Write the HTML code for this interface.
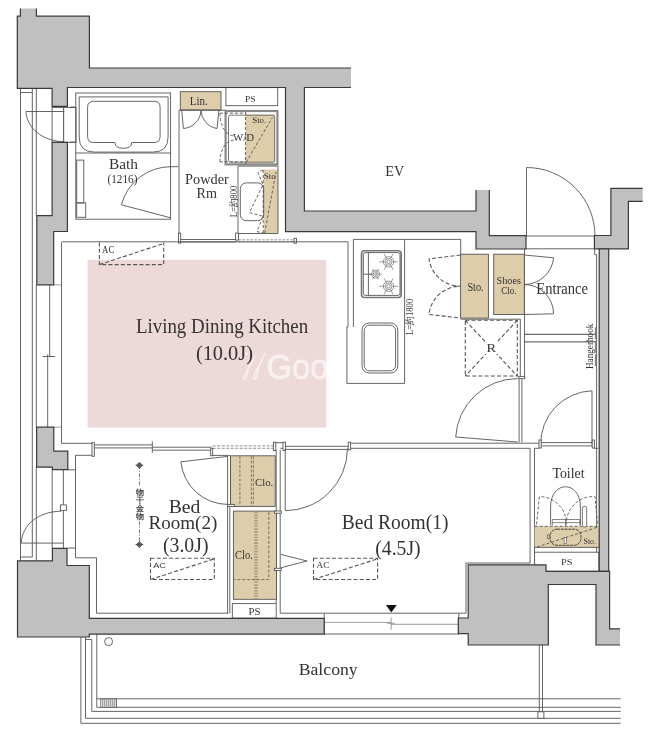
<!DOCTYPE html>
<html><head><meta charset="utf-8"><style>
html,body{margin:0;padding:0;background:#fff;width:655px;height:730px;overflow:hidden}
svg{display:block;will-change:transform}
text{font-family:"Liberation Serif",serif;fill:#333}
.w{fill:#c0c0c0;stroke:#3a3a3a;stroke-width:1.2}
.l{fill:none;stroke:#555;stroke-width:0.9}
.t{fill:none;stroke:#777;stroke-width:0.7}
.d{fill:none;stroke:#555;stroke-width:0.9;stroke-dasharray:3 2}
.d2{fill:none;stroke:#555;stroke-width:1.1;stroke-dasharray:4 2.2}
.tan{fill:#decdab;stroke:#555;stroke-width:0.9}
text.s{font-family:"Liberation Sans",sans-serif}
.wb{fill:#fff;stroke:#555;stroke-width:0.9}
</style></head><body>
<svg width="655" height="730" viewBox="0 0 655 730">
<!-- pink LDK -->
<rect x="87.6" y="259.8" width="238.7" height="167.8" fill="#eed9d9"/>

<!-- ===== TOP-LEFT window lines ===== -->
<path class="l" d="M20.5,88.3 V560.8 M20.5,92.5 H32.3 M32.3,88.3 V557 H20.5 M36.3,88.3 V215.6 M36.3,284.8 V427.2 M36.3,467.2 V560.8"/>
<rect class="wb" x="52.1" y="107.5" width="11.6" height="34.8"/>
<rect class="wb" x="63.7" y="107.5" width="12.3" height="34.8"/>
<path class="l" d="M25.9,111.5 H64.3 M25.9,111.5 C27,128 42,141 63.7,141.7"/>
<!-- ===== BATH ===== -->
<rect class="l" x="75.8" y="93" width="94.8" height="126.2"/>
<path class="l" d="M79.2,96.9 H168.1 V137 Q168.1,152.1 153,152.1 H94.3 Q79.2,152.1 79.2,137 Z"/>
<path class="l" d="M93.6,101.3 H154.1 Q160.1,101.3 160.1,107.3 V136.5 Q160.1,142.5 154.1,142.5 H131.7 Q131.7,148.3 123.4,148.3 Q115,148.3 115,142.5 H93.6 Q87.6,142.5 87.6,136.5 V107.3 Q87.6,101.3 93.6,101.3 Z"/>
<path class="l" d="M75.8,153 H170.6"/>
<rect class="l" x="76.7" y="160.1" width="7.1" height="42.8"/>
<rect class="l" x="76.7" y="202.9" width="9" height="14.4"/>
<path class="l" d="M121.4,204.8 L170.6,217.8 M121.4,204.8 A51,51 0 0 1 170.6,166.7 H178.5"/>
<path class="l" d="M70,107 H75.8 M70,142.1 H75.8"/>
<text x="108.9" y="169.3" font-size="14" textLength="29" lengthAdjust="spacingAndGlyphs">Bath</text>
<text x="107.4" y="182.8" font-size="13" textLength="30.1" lengthAdjust="spacingAndGlyphs">(1216)</text>
<!-- ===== POWDER ===== -->
<rect class="tan" x="180.3" y="91.7" width="40.7" height="18.2"/>
<text x="189.7" y="104.8" font-size="13.4" textLength="18" lengthAdjust="spacingAndGlyphs">Lin.</text>
<rect class="wb" x="225.9" y="87.6" width="51.8" height="18.1"/>
<text x="245" y="101.7" font-size="9" textLength="10.6" lengthAdjust="spacingAndGlyphs">PS</text>
<path class="l" d="M179,110.3 V240.2 M179,110.3 H226"/>
<path class="l" d="M181.7,110 L183.4,128.5 A19,19 0 0 0 201,110.5 A19,19 0 0 0 217.1,128.5 L218.9,110"/>
<!-- W/D -->
<rect x="225.6" y="111" width="51.8" height="53.4" fill="#fff" stroke="#888" stroke-width="2.2"/>
<rect x="245.6" y="114.5" width="29.4" height="48" fill="#decdab"/>
<rect x="228.5" y="115.2" width="46.2" height="47" rx="2" fill="none" stroke="#555" stroke-width="0.8"/>
<path class="d" d="M245.6,112 V164 M246.1,162.2 L272.4,117.5"/>
<path class="d" d="M219.9,113.2 H245.6 M219.9,161.8 H245.6 M219.9,113.2 A13.9,22.6 0 0 0 233.8,135.8 M219.9,161.8 A13.9,21.6 0 0 1 233.8,140.2"/>
<text x="232.9" y="140.8" font-size="11" textLength="21.1" lengthAdjust="spacingAndGlyphs">W/D</text>
<text x="252.2" y="122.7" font-size="9" textLength="14.1" lengthAdjust="spacingAndGlyphs">Sto.</text>
<!-- sink area -->
<path class="l" d="M238,166.1 V238.2 M238,166.1 H278"/>
<rect class="tan" x="263.7" y="169.5" width="14.3" height="64" style="stroke:none"/>
<path class="l" d="M278,166.1 V233.5 H238"/>
<rect class="l" x="240.3" y="182.9" width="23.4" height="37.8" rx="6"/>
<path class="d" d="M263.2,170 V233 M264.7,233 L276,172"/>
<path class="d" d="M263,170 L258,172.4 L263,184.8 L249.4,212.5 L263,216.3 L257,231.6 L263,233"/>
<text x="263.7" y="178.5" font-size="8.5" textLength="12.1" lengthAdjust="spacingAndGlyphs">Sto</text>
<text transform="translate(236.5,217.3) rotate(-90)" font-size="10" textLength="31.5" lengthAdjust="spacingAndGlyphs">L=約800</text>
<text x="185.1" y="183.9" font-size="15.4" textLength="43.7" lengthAdjust="spacingAndGlyphs">Powder</text>
<text x="196.6" y="198.2" font-size="15.4" textLength="20.4" lengthAdjust="spacingAndGlyphs">Rm</text>
<!-- bottom of powder -->
<path class="l" d="M179,239.5 H236.7 M179,242 H236.7"/>
<rect class="wb" x="178.5" y="233.1" width="2.2" height="10"/>
<path d="M238.4,239.8 H294 M238.4,242 H294" fill="none" stroke="#777" stroke-width="0.8" stroke-dasharray="2.5 1.5"/>
<rect class="wb" x="235.6" y="233.1" width="2.8" height="7"/>
<rect class="wb" x="294" y="238.3" width="2.5" height="4.9"/>
<!-- EV shaft lines -->


<!-- ===== LEFT WINDOW (LDK) ===== -->
<path class="l" d="M49.7,284.8 V356.5 M47.7,354.4 V427.2 M42.5,356.5 H55 M61.5,242.4 V443.3 H92"/>
<path class="t" d="M53.7,284.8 H61.5 M53.7,427.2 H61.5"/>
<!-- ===== LEFT DOOR (BR2) ===== -->
<path class="l" d="M52.2,469.8 V548.1 M63.4,469.8 V548.1 M75.5,469.8 H67.7 M75.5,455.3 V557.8 H96.5 V613.2 H228.5 M67.2,548.1 H75.5"/>
<path class="l" d="M21.3,543.1 H63.4 M21.3,543.1 C22,525 38,511.5 61.2,511.2"/>
<rect class="wb" x="60.4" y="504.9" width="6" height="5.5"/>
<!-- ===== LDK top / kitchen ===== -->
<path class="l" d="M61.5,241.8 H348 V327 H346.9 V383.4 H404.6 M353.4,327 V239.4 H460.7 V254.4 M404.6,239.4 V383.4"/>
<rect x="361.5" y="250.8" width="39.7" height="46.7" rx="3" fill="none" stroke="#777" stroke-width="1.6"/>
<rect class="l" x="363.3" y="252.6" width="36.7" height="42.8" rx="2"/>
<path class="l" d="M368.4,252.6 V295.4 M363.3,274.2 H371.6"/>
<g fill="none" stroke="#555" stroke-width="0.6">
<circle cx="388.6" cy="261.8" r="5.2"/>
<circle cx="388.6" cy="261.8" r="3.4"/>
<circle cx="388.6" cy="261.8" r="1.8"/>
<path d="M392.60,261.80 L397.80,261.80 M390.60,265.26 L393.20,269.77 M386.60,265.26 L384.00,269.77 M384.60,261.80 L379.40,261.80 M386.60,258.34 L384.00,253.83 M390.60,258.34 L393.20,253.83"/>
<circle cx="375.6" cy="274.2" r="4.0"/>
<circle cx="375.6" cy="274.2" r="2.4"/>
<circle cx="375.6" cy="274.2" r="1.0"/>
<path d="M378.60,274.20 L381.60,274.20 M377.10,276.80 L378.60,279.40 M374.10,276.80 L372.60,279.40 M372.60,274.20 L369.60,274.20 M374.10,271.60 L372.60,269.00 M377.10,271.60 L378.60,269.00"/>
<circle cx="388.6" cy="286.3" r="5.2"/>
<circle cx="388.6" cy="286.3" r="3.4"/>
<circle cx="388.6" cy="286.3" r="1.8"/>
<path d="M392.60,286.30 L397.80,286.30 M390.60,289.76 L393.20,294.27 M386.60,289.76 L384.00,294.27 M384.60,286.30 L379.40,286.30 M386.60,282.84 L384.00,278.33 M390.60,282.84 L393.20,278.33"/>
</g>
<rect class="l" x="362" y="323" width="35.8" height="50" rx="7"/>
<rect class="l" x="364.2" y="325.2" width="31.4" height="45.6" rx="5.5"/>
<text transform="translate(412.5,335) rotate(-90)" font-size="10" textLength="36.3" lengthAdjust="spacingAndGlyphs">L=約1800</text>
<!-- AC LDK -->
<path class="d2" d="M99.4,242.6 V264.6 H163.7 V242.6 M99.4,264.6 L163.7,243.5"/>
<text x="102.1" y="252.7" font-size="9.3" textLength="12.3" lengthAdjust="spacingAndGlyphs">AC</text>


<!-- ===== LDK bottom / bedrooms ===== -->
<path class="l" d="M94.3,444.9 H152.7 M94.3,447.9 H152.7 M152.7,447.2 H211.7 M152.7,450.2 H211.7 M152.3,441.4 V452.9"/>
<rect class="wb" x="92" y="442.6" width="2.3" height="13.7"/>
<path d="M212.7,445.9 H273.2 M212.7,448.3 H273.2" fill="none" stroke="#777" stroke-width="0.8" stroke-dasharray="3 1.5"/>
<rect class="wb" x="210.7" y="448.3" width="2" height="7.5"/>
<path class="l" d="M275.8,442.7 H283 M280.4,448.3 H283"/>
<rect class="wb" x="273.4" y="442.2" width="2.4" height="8.4"/>
<rect class="wb" x="283" y="442.2" width="2.6" height="8.4"/>
<path class="l" d="M212.7,455.4 H230 M75.5,455.3 H92"/>
<path class="l" d="M285.1,446.3 H349.5 M285.1,449.4 H349.5 M349.5,443.2 H519 M349.5,448.3 H530.1 M276.2,449.8 V603 M280.2,449.8 V613.2 H466"/>
<!-- BR2 door -->
<path class="l" d="M180.9,461.8 L227.6,456.4 M180.9,461.8 A47,47 0 0 0 227.6,504.4"/>
<!-- BR2 closets -->
<path class="l" d="M227.6,456 V613.2 M229.8,506 V613.2 M230.5,456 V506"/>
<rect class="tan" x="230.5" y="455.8" width="44.7" height="50.6"/>
<path d="M239.9,456 V506 M251.4,456 V506 M253.4,456 V506" fill="none" stroke="#7a7060" stroke-width="0.9" stroke-dasharray="3 1.5"/>
<rect class="wb" x="227.6" y="504.4" width="6.9" height="2"/>
<text x="255" y="486" font-size="11" textLength="18.3" lengthAdjust="spacingAndGlyphs">Clo.</text>
<rect class="tan" x="233.4" y="511.1" width="43.1" height="88.2"/>
<path d="M256,511.5 V599" fill="none" stroke="#a59d88" stroke-width="3.5" stroke-dasharray="1.6 1.2"/>
<path d="M268.8,512 V579.6 H233.4" fill="none" stroke="#6a6250" stroke-width="0.9" stroke-dasharray="3 1.8"/>
<text x="235.1" y="559.1" font-size="12.5" textLength="17.8" lengthAdjust="spacingAndGlyphs">Clo.</text>
<rect class="wb" x="232.3" y="603.6" width="43.9" height="14.6"/>
<text x="248.5" y="615.1" font-size="10.5" textLength="12" lengthAdjust="spacingAndGlyphs">PS</text>
<rect class="wb" x="274.5" y="511" width="6.8" height="2.2"/>
<rect class="wb" x="274.5" y="568.3" width="6.8" height="2.2"/>
<!-- rail -->
<path d="M139.4,465.3 V544.6" fill="none" stroke="#555" stroke-width="0.8" stroke-dasharray="4 1.5 1 1.5"/>
<path d="M139.4,462.2 L142.5,465.3 L139.4,468.4 L136.3,465.3 Z M139.4,541.5 L142.5,544.6 L139.4,547.7 L136.3,544.6 Z" fill="#666" stroke="#333" stroke-width="0.6"/>
<path d="M135.5,465.3 H143.3 M135.5,544.6 H143.3" stroke="#444" stroke-width="0.7"/>
<g style="font-size:7.6px;font-weight:bold"><rect x="135.5" y="487" width="8" height="33" fill="#fff"/><text x="135.6" y="494.5" style="fill:#444">物</text><text x="135.6" y="502.6" style="fill:#444">干</text><text x="135.6" y="510.7" style="fill:#444">金</text><text x="135.6" y="518.9" style="fill:#444">物</text></g>
<!-- AC BR2 -->
<path class="d2" d="M150.5,558.3 H214.3 V579.5 H150.5 Z M150.5,579.5 L214.3,558.8"/>
<text x="153.3" y="567.5" font-size="8.1" class="s" textLength="12.6" lengthAdjust="spacingAndGlyphs">AC</text>
<!-- BR1 door -->
<path class="l" d="M285.2,448.6 V510.7 M285.2,510.7 A62.3,62.3 0 0 0 347.5,448.6"/>
<rect class="wb" x="348.2" y="442.2" width="2.4" height="7.6"/>
<!-- triangle -->
<path class="l" d="M280.8,554.4 L307,561 L280.8,567.8"/>
<!-- AC BR1 -->
<path class="d2" d="M313.5,558.3 H377.6 V579.5 H313.5 Z M313.5,579.5 L377.6,558.8"/>
<text x="316.6" y="567.7" font-size="9.2" textLength="12.8" lengthAdjust="spacingAndGlyphs">AC</text>
<!-- BR1 window -->
<path class="l" d="M324.2,613.4 V634 M458.8,613.4 V634 M324.2,634 H458.8"/>
<path class="t" d="M324.2,622.4 H391 M391,624.3 H458.8 M391.2,617.5 V629.8 M387,623.3 H395"/>
<path d="M386,605.1 H396.7 L391.3,612.5 Z" fill="#111"/>
<!-- ===== BALCONY ===== -->
<path class="l" d="M80.9,637 V723.3 H620.7 M85.5,637 V718.3 H620.7 M91.8,639.5 V711.4 H620.7 M96.8,634.2 V707.3 H620.7 M96.8,698.8 H620.7"/>
<path class="l" d="M85.5,639.5 H91.8"/>
<circle cx="108.6" cy="641.6" r="4" class="l"/>
<rect x="100.8" y="699" width="15.8" height="8.2" fill="#fff" stroke="#555" stroke-width="0.8"/>
<path d="M102.8,699.5 V706.7 M104.8,699.5 V706.7 M106.8,699.5 V706.7 M108.8,699.5 V706.7 M110.8,699.5 V706.7 M112.8,699.5 V706.7 M114.8,699.5 V706.7" fill="none" stroke="#444" stroke-width="0.7"/>
<path class="l" d="M539.3,645 V711.8 M542.5,645 V711.8"/>
<rect class="wb" x="537.9" y="711.8" width="6" height="6.5"/>


<!-- ===== ENTRANCE ===== -->
<path class="l" d="M526.5,167.5 V236 M526.5,167.5 A68.5,68.5 0 0 1 595,236"/>
<path class="l" d="M526,236 H594.4 M526,248.8 H594.4 M594.7,248.8 V254.6 H596.6 V571.3"/>
<path class="l" d="M524.5,249 V376.4 M520.3,319.2 V376.4 M460.6,319.2 H520.3"/>
<rect class="tan" x="460.6" y="254.2" width="27.8" height="63.9"/>
<rect class="tan" x="493.7" y="254.2" width="30.6" height="60.3"/>
<text x="467.4" y="291" font-size="12" textLength="16.3" lengthAdjust="spacingAndGlyphs">Sto.</text>
<text x="496.5" y="284.1" font-size="11" textLength="24.4" lengthAdjust="spacingAndGlyphs">Shoes</text>
<text x="501.2" y="293.7" font-size="11" textLength="15.4" lengthAdjust="spacingAndGlyphs">Clo.</text>
<path class="d2" d="M460.6,255 L429,258.9 A31.5,31.5 0 0 0 460.6,286.2 A31.5,31.5 0 0 0 429,314.5 L460.6,318"/>
<path class="l" d="M524.3,255 L553.6,257.8 A29.5,29.5 0 0 1 524.3,284.5 A29.5,29.5 0 0 1 553.6,313.8 L524.3,314.5"/>
<!-- R -->
<path class="d2" d="M465.3,320.3 H517.3 V376 H465.3 Z M465.3,320.3 L517.3,376 M517.3,320.3 L465.3,376"/>
<rect x="485" y="338" width="12.5" height="16" fill="#fff"/>
<text x="486.6" y="351.9" font-size="13" textLength="9.5" lengthAdjust="spacingAndGlyphs">R</text>
<rect class="wb" x="518.7" y="376.4" width="6.1" height="2.3"/>
<path class="l" d="M519.1,378.7 V442.3 M521.9,378.7 V442.3"/>
<!-- hanger -->
<path class="l" style="stroke:#333" d="M524.2,334.3 H595.4 M524.2,341.9 H595.4"/>
<text transform="translate(592.5,369) rotate(-90)" font-size="9.5" textLength="45.3" lengthAdjust="spacingAndGlyphs">Hangerhook</text>
<path d="M595.4,327.3 V366" fill="none" stroke="#555" stroke-width="0.8" stroke-dasharray="12 1.5"/>
<!-- LDK door -->
<path class="l" d="M517.6,442 L455.7,437 A62,62 0 0 1 517.6,378.6"/>
<!-- Toilet door -->
<path class="l" d="M592,445 V390.8 M592,390.8 A53,53 0 0 0 540.7,445"/>
<!-- toilet top walls -->
<path class="l" d="M519,443.2 H539.2 M539.2,442.6 H594 M539.2,445.9 H594 M534.5,448.3 H539.2 M594,448.3 H598.4 M530.1,448.3 V563 H466 V613.2 M534.5,448.3 V571.3"/>
<rect class="wb" x="539" y="440" width="2.2" height="8"/>
<rect class="wb" x="592.2" y="440" width="2.2" height="8"/>
<text x="552.4" y="478.4" font-size="15.3" textLength="32.1" lengthAdjust="spacingAndGlyphs">Toilet</text>
<rect x="534.6" y="526.3" width="64.3" height="21.1" fill="#decdab"/>
<path class="l" d="M534.6,547.4 H598.9"/>
<path class="d" d="M534.6,526.3 H598.9 M537,547 L598,527"/>
<path class="d" d="M536.5,524.4 L539.4,496.6 A27,27 0 0 1 566.3,524.4 A27,27 0 0 1 595,496.6 L597.5,524.4"/>
<path d="M550.6,525 V507 C550.6,480 580.4,480 580.4,507 V525" fill="none" stroke="#444" stroke-width="0.8"/>
<path d="M552.3,519.5 H579.8 M552.3,522.6 H579.8 M552.3,519.5 V525.8 M579.8,519.5 V525.8 M565.5,519.5 V525.8" fill="none" stroke="#555" stroke-width="0.7"/>
<rect x="582.4" y="506.3" width="4.3" height="20.7" rx="1.8" fill="#fff" stroke="#444" stroke-width="0.7"/>
<rect x="550" y="529.2" width="31" height="16.1" rx="7" fill="none" stroke="#333" stroke-width="0.9" stroke-dasharray="3 0.8"/>
<rect x="547.2" y="535" width="2.6" height="3.6" fill="#decdab" stroke="#444" stroke-width="0.6"/>
<rect x="564.1" y="537.3" width="2.3" height="6.3" fill="#fff" stroke="#444" stroke-width="0.6"/>
<text x="583.5" y="543.6" font-size="8.5" textLength="12.5" lengthAdjust="spacingAndGlyphs">Sto.</text>
<rect class="wb" x="534.6" y="552.2" width="64.3" height="19.1"/>
<text x="561" y="564.7" font-size="9" textLength="11.5" lengthAdjust="spacingAndGlyphs">PS</text>

<!-- ===== WALLS ===== -->
<!-- top-left block + top wall + EV walls -->
<path class="w" style="stroke:none" d="M20.4,8.5 H36.4 V16.2 H89.4 V68 H351 V87.5 H304.4 V211 H476 V190 H489.3 V235.6 H526 V249 H476 V231.6 H285.5 V87.5 H67.4 V106.3 H52.1 V88.3 H17.3 V16.2 H20.4 Z"/>
<path class="w" style="fill:none" d="M36.4,8.5 V16.2 H89.4 V68 H351 M351,87.5 H304.4 V211 H476 V190 M489.3,190 V235.6 H526 V249 H476 V231.6 H285.5 V87.5 H67.4 V106.3 H52.1 V88.3 H17.3 V16.2 H20.4 V8.5"/>
<!-- right entrance wall -->
<path class="w" style="stroke:none" d="M610.9,188.4 H642.7 V201.4 H628.4 V248.8 H594.4 V235.5 H610.9 Z"/>
<path class="w" style="fill:none" d="M642.7,188.4 H610.9 V235.5 H594.4 V248.8 H628.4 V201.4 H642.7"/>
<!-- right vertical strip -->
<path class="w" d="M599.2,248.8 H608.7 V571.3 H599.2 Z"/>
<!-- left wall upper -->
<path class="w" d="M52.1,142.3 H67.4 V231.5 H53.7 V284.8 H36.8 V215.6 H52.1 Z"/>
<!-- left wall middle -->
<path class="w" d="M36.6,427.2 H53.8 V451.2 H67.8 V469.7 H52.4 V467.2 H36.6 Z"/>
<!-- bottom-left block + balcony wall -->
<path class="w" d="M17.5,560.8 H52.4 V548.4 H67 V565.5 H89.3 V618.3 H324.2 V634.2 H89.3 V637 H17.5 Z"/>
<!-- bottom-right block -->
<path class="w" style="stroke:none" d="M468.2,564.8 H546 V571.3 H609.6 V628.8 H620 V645 H596 V584.5 H548.3 V645 H468.2 V633.6 H458.3 V618 H468.2 Z"/>
<path class="w" style="fill:none" d="M620,628.8 H609.6 V571.3 H546 V564.8 H468.2 V618 H458.3 V633.6 H468.2 V645 H548.3 V584.5 H596 V645 H620"/>


<!-- EV -->
<text x="385.2" y="176" font-size="15.6" textLength="19.0" lengthAdjust="spacingAndGlyphs">EV</text>
<text x="135.9" y="333.2" font-size="20.5" textLength="172.3" lengthAdjust="spacingAndGlyphs">Living Dining Kitchen</text>
<text x="195.9" y="360.3" font-size="20.5" textLength="57.1" lengthAdjust="spacingAndGlyphs">(10.0J)</text>
<text x="168.7" y="513.3" font-size="19.5" textLength="31.6" lengthAdjust="spacingAndGlyphs">Bed</text>
<text x="148.4" y="529.3" font-size="19.5" textLength="69.0" lengthAdjust="spacingAndGlyphs">Room(2)</text>
<text x="163" y="552.4" font-size="20" textLength="45.5" lengthAdjust="spacingAndGlyphs">(3.0J)</text>
<text x="341.8" y="529.2" font-size="20" textLength="106.7" lengthAdjust="spacingAndGlyphs">Bed Room(1)</text>
<text x="375.2" y="554.9" font-size="20" textLength="45.5" lengthAdjust="spacingAndGlyphs">(4.5J)</text>
<text x="536.3" y="294.3" font-size="15.7" textLength="51.7" lengthAdjust="spacingAndGlyphs">Entrance</text>
<text x="298.7" y="675.1" font-size="17.7" textLength="59.0" lengthAdjust="spacingAndGlyphs">Balcony</text>
<clipPath id="pk"><rect x="87.6" y="259.8" width="238.7" height="167.8"/></clipPath>
<g clip-path="url(#pk)" opacity="0.6">
<text x="266.5" y="378.7" class="s" font-size="35" style="fill:#fff;stroke:#fff;stroke-width:0.8" textLength="62" lengthAdjust="spacingAndGlyphs">Goo</text>
<path d="M255,356 C252,362 247,370 244,376 C242.5,379.5 245,380 246.5,376.5 C247.8,373 248.5,369.5 249,366.5 M265,353.5 C262,360 257,369 254,376 C252.5,379.5 255,380 256.5,376.5 C257.8,373 258.5,369.5 259,366.5" fill="none" stroke="#fff" stroke-width="1.5" stroke-linecap="round"/>
<circle cx="246.5" cy="353.7" r="1.5" fill="#fff"/>
</g>
</svg>
</body></html>
